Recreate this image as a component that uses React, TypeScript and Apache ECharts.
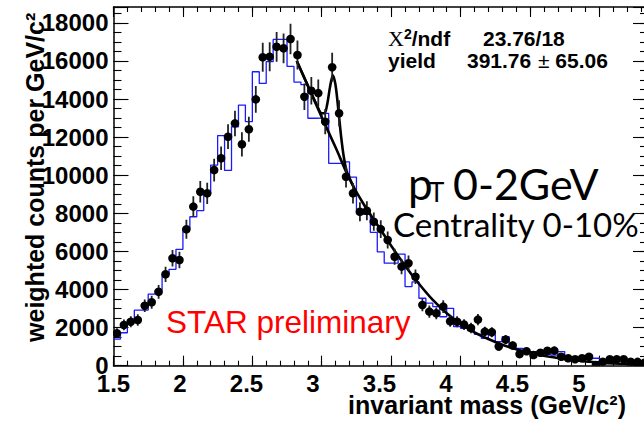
import React, { useEffect, useRef } from 'react';
import * as echarts from 'echarts';

// Binning shared by the data points and the mixed-event histogram (GeV/c^2)
const BIN_START = 1.5;
const BIN_WIDTH = 0.05;

const X_MIN = 1.5;
const X_MAX = 5.35;
const Y_MAX = 18830;
// Printed tick labels run on their own scale along the same frame
const LABEL_MAX = 5.519;

// Weighted counts per bin (black points) and their uncertainties
const dataCounts = [
  1700, 2140, 2310, 2400, 3150, 3330, 3880, 4800, 5640, 5550,
  7160, 8350, 9130, 9050, 10270, 10890, 12020, 12720, 11620, 12410,
  13980, 16190, 16220, 16740, 16660, 17150, 16310, 14120, 14430, 14310,
  12810, 15670, 13250, 9920, 9050, 8080, 8130, 7560, 7170, 6600,
  5720, 5200, 5380, 4670, 3190, 2840, 2750, 3100, 2330, 2310,
  2160, 1980, 2420, 1790, 1760, 1010, 1370, 1060, 610, 760,
  560, 680, 780, 790, 470, 390, 340, 390, 470, 40,
  210, 340, 340, 340, 210, 200, 150,
];
const dataErrors = [
  260, 280, 290, 300, 330, 340, 360, 400, 430, 430,
  500, 540, 560, 560, 600, 620, 650, 670, 640, 660,
  700, 760, 760, 780, 780, 800, 760, 700, 720, 720,
  660, 760, 680, 560, 540, 500, 500, 480, 470, 450,
  420, 400, 400, 380, 330, 320, 310, 330, 290, 290,
  280, 270, 300, 260, 260, 220, 240, 220, 190, 200,
  190, 190, 200, 200, 170, 160, 160, 160, 170, 140,
  150, 150, 150, 150, 140, 140, 140,
];

// Mixed-event background histogram (blue), one value per bin
const mixedEvent = [
  1400, 1730, 2400, 2920, 2920, 3760, 3970, 4800, 5060, 6110,
  7210, 7820, 8140, 9050, 10530, 12080, 10250, 12545, 13680, 12810,
  15430, 14820, 15960, 17130, 17130, 15710, 14890, 14750, 12990, 13000,
  13250, 10620, 10620, 10700, 9900, 7990, 7950, 7000, 5980, 5380,
  5380, 5860, 4150, 4400, 3540, 3280, 3100, 2570, 3010, 2050,
  1960, 1840, 1650, 1440, 1650, 1260, 1520, 960, 910, 735,
  735, 735, 600, 560, 740, 470, 230, 390, 390, 390,
  210, 300, 300, 300, 160, 160, 160,
];

// Fit: residual background alone, and background plus J/psi peak
const bkgFit: [number, number][] = [
  [2.82, 16000], [2.9, 14700], [3.0, 13050], [3.1, 11450], [3.2, 9800],
  [3.3, 8500], [3.4, 7400], [3.5, 6300], [3.6, 5250], [3.7, 4300],
  [3.8, 3450], [3.9, 2750], [4.0, 2200], [4.1, 1750], [4.2, 1400],
  [4.3, 1100], [4.4, 870], [4.5, 680], [4.6, 520], [4.7, 400],
  [4.8, 300], [4.9, 220], [5.0, 160], [5.1, 120], [5.2, 95], [5.35, 70],
];
const peakFit: [number, number][] = [
  [2.82, 16000], [2.9, 14700], [2.96, 13750], [3.0, 13250], [3.02, 13250],
  [3.04, 13750], [3.06, 14650], [3.08, 15250], [3.1, 14700], [3.12, 13400],
  [3.14, 12000], [3.16, 10900], [3.18, 10200], [3.2, 9850], [3.23, 9380],
];

const SANS = "'Liberation Sans', Arial, Helvetica, sans-serif";
const CALLOUT = "Lato, 'Open Sans', sans-serif";

function statText(x: number, y: number, text: string, rich?: any) {
  return {
    type: 'text', x, y,
    style: {
      text, fill: '#000', fontFamily: SANS, fontSize: 21, fontWeight: 'bold',
      verticalAlign: 'middle', rich,
    },
  };
}

function buildOption(): echarts.EChartsOption {
  const points = dataCounts.map((v, i) => [BIN_START + BIN_WIDTH * (i + 0.5), v, dataErrors[i]]);
  const histLine: [number, number][] = mixedEvent.map((v, i) => [BIN_START + BIN_WIDTH * i, v]);
  histLine.push([BIN_START + BIN_WIDTH * mixedEvent.length, mixedEvent[mixedEvent.length - 1]]);

  const frame = { color: '#000', width: 1.5 };
  const tickStyle = { color: '#000', width: 1.1 };

  const xBase = { type: 'value' as const, min: X_MIN, max: X_MAX, splitLine: { show: false } };
  const yBase = { type: 'value' as const, min: 0, max: Y_MAX, splitLine: { show: false } };

  return {
    animation: false,
    backgroundColor: '#fff',
    grid: {
      left: 113.5, top: 7, width: 534.5, height: 358.7,
      containLabel: false, outerBoundsMode: 'none',
    } as any,
    xAxis: [
      {
        ...xBase, position: 'bottom', interval: 0.5,
        axisLine: { show: true, onZero: false, lineStyle: frame },
        axisTick: { show: true, inside: true, length: 10, lineStyle: tickStyle },
        axisLabel: { show: false },
      },
      {
        ...xBase, position: 'bottom', interval: 0.1,
        axisLine: { show: false, onZero: false },
        axisTick: { show: true, inside: true, length: 5, lineStyle: tickStyle },
        axisLabel: { show: false },
      },
      {
        ...xBase, position: 'top', interval: 0.5,
        axisLine: { show: true, onZero: false, lineStyle: frame },
        axisTick: { show: true, inside: true, length: 10, lineStyle: tickStyle },
        axisLabel: { show: false },
      },
      {
        ...xBase, position: 'top', interval: 0.1,
        axisLine: { show: false, onZero: false },
        axisTick: { show: true, inside: true, length: 5, lineStyle: tickStyle },
        axisLabel: { show: false },
      },
      {
        type: 'value', min: 1.5, max: LABEL_MAX, interval: 0.5, position: 'bottom',
        splitLine: { show: false },
        axisLine: { show: false, onZero: false },
        axisTick: { show: false },
        axisLabel: {
          show: true, margin: 9, fontSize: 24, lineHeight: 18, fontWeight: 'bold',
          fontFamily: SANS, color: '#000',
          formatter: (v: number) => (v > 5.2 ? '' : String(v)),
        },
        name: 'invariant mass (GeV/c²)',
        nameLocation: 'end',
        nameGap: -22,
        nameMoveOverlap: false,
        nameTextStyle: {
          fontSize: 25, lineHeight: 18, fontWeight: 'bold', fontFamily: SANS, color: '#000',
          align: 'right', verticalAlign: 'top', padding: [30, 0, 0, 0],
        },
      } as any,
    ],
    yAxis: [
      {
        ...yBase, position: 'left', interval: 2000,
        axisLine: { show: true, onZero: false, lineStyle: frame },
        axisTick: { show: true, inside: true, length: 15, lineStyle: tickStyle },
        axisLabel: {
          show: true, margin: 5, fontSize: 24, fontWeight: 'bold', fontFamily: SANS, color: '#000',
          formatter: (v: number) => (v % 2000 === 0 ? String(v) : ''),
        },
        name: 'weighted counts per GeV/c²',
        nameLocation: 'middle',
        nameRotate: 90,
        nameGap: 66,
        nameMoveOverlap: false,
        nameTextStyle: {
          fontSize: 25, lineHeight: 25, fontWeight: 'bold', fontFamily: SANS, color: '#000',
          padding: [0, 0, 0, 18],
        },
      } as any,
      {
        ...yBase, position: 'left', interval: 500,
        axisLine: { show: false, onZero: false },
        axisTick: { show: true, inside: true, length: 8, lineStyle: tickStyle },
        axisLabel: { show: false },
      },
      {
        ...yBase, position: 'right', interval: 2000,
        axisLine: { show: true, onZero: false, lineStyle: frame },
        axisTick: { show: true, inside: true, length: 15, lineStyle: tickStyle },
        axisLabel: { show: false },
      },
      {
        ...yBase, position: 'right', interval: 500,
        axisLine: { show: false, onZero: false },
        axisTick: { show: true, inside: true, length: 8, lineStyle: tickStyle },
        axisLabel: { show: false },
      },
    ],
    series: [
      {
        type: 'line', name: 'mixed event', data: histLine, step: 'end',
        xAxisIndex: 0, yAxisIndex: 0, symbol: 'none', clip: true, z: 2,
        lineStyle: { color: '#1a1aff', width: 1.3 },
      },
      {
        type: 'line', name: 'background fit', data: bkgFit, smooth: 0.3,
        xAxisIndex: 0, yAxisIndex: 0, symbol: 'none', clip: true, z: 3,
        lineStyle: { color: '#000', width: 2.6 },
      },
      {
        type: 'line', name: 'signal + background fit', data: peakFit, smooth: 0.3,
        xAxisIndex: 0, yAxisIndex: 0, symbol: 'none', clip: true, z: 3,
        lineStyle: { color: '#000', width: 2.6 },
      },
      {
        type: 'custom', name: 'data', data: points,
        xAxisIndex: 0, yAxisIndex: 0, clip: true, z: 4,
        renderItem: (_params: any, api: any) => {
          const x = api.value(0);
          const y = api.value(1);
          const e = api.value(2);
          const c = api.coord([x, y]);
          const hi = api.coord([x, y + e]);
          const lo = api.coord([x, Math.max(0, y - e)]);
          return {
            type: 'group',
            children: [
              {
                type: 'line',
                shape: { x1: c[0], y1: hi[1], x2: c[0], y2: lo[1] },
                style: { stroke: '#222', lineWidth: 1.8 },
              },
              {
                type: 'circle',
                shape: { cx: c[0], cy: c[1], r: 4.3 },
                style: { fill: '#000' },
              },
            ],
          };
        },
      } as any,
    ],
    graphic: [
      statText(388, 38, '{chi|Χ}{sup|2}/ndf', {
        chi: { fontFamily: "'Liberation Serif', serif", fontSize: 22, fontWeight: 'normal', fill: '#000' },
        sup: { fontFamily: SANS, fontSize: 14, fontWeight: 'bold', fill: '#000', verticalAlign: 'top' },
      }),
      statText(483, 38, '23.76/18'),
      statText(388, 60, 'yield'),
      statText(467, 60, '391.76'),
      statText(538, 60, '{pm|±} 65.06', {
        pm: { fontFamily: SANS, fontSize: 21, fontWeight: 'normal', fill: '#000' },
      }),
      {
        type: 'text', x: 166, y: 322,
        style: { text: 'STAR preliminary', fill: '#ff0000', fontFamily: SANS, fontSize: 31.5, verticalAlign: 'middle' },
      },
      {
        type: 'text', x: 408, y: 183,
        style: { text: 'p', fill: '#000', fontFamily: CALLOUT, fontSize: 44, verticalAlign: 'middle' },
      },
      {
        type: 'text', x: 429, y: 192,
        style: { text: 'T', fill: '#000', fontFamily: CALLOUT, fontSize: 26, verticalAlign: 'middle' },
      },
      {
        type: 'text', x: 453, y: 183,
        style: { text: '0-2GeV', fill: '#000', fontFamily: CALLOUT, fontSize: 43, verticalAlign: 'middle' },
      },
      {
        type: 'text', x: 393, y: 224.2,
        style: { text: 'Centrality 0-10%', fill: '#000', fontFamily: CALLOUT, fontSize: 33, verticalAlign: 'middle' },
      },
    ],
  } as echarts.EChartsOption;
}

export default function App() {
  const ref = useRef<HTMLDivElement>(null);
  useEffect(() => {
    if (!ref.current) return;
    const chart = echarts.init(ref.current, null, { renderer: 'svg' });
    chart.setOption(buildOption());
    return () => chart.dispose();
  }, []);
  return (
    <div
      ref={ref}
      style={{ position: 'fixed', left: 0, top: 0, width: 644, height: 425, background: '#fff' }}
    />
  );
}
